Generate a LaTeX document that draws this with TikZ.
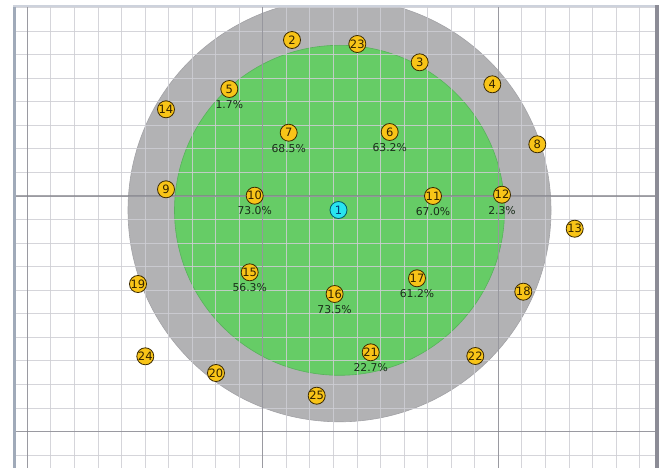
\documentclass[tikz,border=0pt]{standalone}
\usepackage{fontspec}
\setmainfont{DejaVu Sans}
\definecolor{ringgray}{RGB}{178,178,180}
\definecolor{ringedge}{RGB}{162,162,166}
\definecolor{fieldgreen}{RGB}{102,204,102}
\definecolor{fieldedge}{RGB}{88,178,92}
\definecolor{minorline}{RGB}{206,206,212}
\definecolor{majorline}{RGB}{130,130,138}
\definecolor{nodeyellow}{RGB}{248,196,24}
\definecolor{nodeedge}{RGB}{60,42,0}
\definecolor{nodetext}{RGB}{50,34,0}
\definecolor{basecyan}{RGB}{40,228,240}
\definecolor{baseedge}{RGB}{0,90,110}
\definecolor{basetext}{RGB}{0,60,120}
\definecolor{pcttext}{RGB}{25,45,25}
\definecolor{leftbar}{RGB}{160,170,185}
\definecolor{topbar}{RGB}{205,210,220}
\definecolor{rightbar}{RGB}{140,140,150}
\begin{document}
\begin{tikzpicture}[x=1pt,y=-1pt,
 sensor/.style={circle,draw=nodeedge,line width=0.8pt,fill=nodeyellow,minimum size=17pt,inner sep=0pt,font=\fontsize{11.5}{13}\selectfont,text=nodetext},
 basest/.style={sensor,fill=basecyan,draw=baseedge,text=basetext},
 pct/.style={font=\fontsize{10.8}{12}\selectfont,text=pcttext,inner sep=0pt,text height=7.9pt,text depth=0pt},
 minor/.style={draw=minorline,line width=0.9pt,opacity=0.85},
 major/.style={draw=majorline,line width=1.2pt,opacity=0.7}]
\useasboundingbox (0,0) rectangle (664,468);
\fill[white] (0,0) rectangle (664,468);
\begin{scope}
\clip (14,6) rectangle (657,468);
\fill[ringgray,draw=ringedge,line width=0.6pt] (339.5,210.3) circle[radius=211.5pt];
\fill[fieldgreen,draw=fieldedge,line width=0.6pt] (339.5,210.3) circle[radius=165pt];
\foreach \k in {0,...,26} { \draw[minor] ({27.3+23.55*\k},6) -- ({27.3+23.55*\k},468); }
\foreach \k in {-8,...,11} { \draw[minor] (14,{196+23.55*\k}) -- (657,{196+23.55*\k}); }
\foreach \k in {0,10,20} { \draw[major] ({27.3+23.55*\k},6) -- ({27.3+23.55*\k},468); }
\foreach \k in {0,10} { \draw[major] (14,{196+23.55*\k}) -- (657,{196+23.55*\k}); }
\end{scope}
\fill[leftbar] (12.5,5) rectangle (16,468);
\fill[topbar] (12.5,5) rectangle (659,7.5);
\fill[rightbar] (655,5) rectangle (659,468);
\node[basest] (n1) at (338.5,210) {1};
\node[sensor] (n2) at (292,40) {2};
\node[sensor] (n3) at (419.7,62.3) {3};
\node[sensor] (n4) at (492.3,84.3) {4};
\node[sensor] (n5) at (229.3,89) {5};
\node[sensor] (n6) at (389.7,132) {6};
\node[sensor] (n7) at (288.7,132.7) {7};
\node[sensor] (n8) at (537.3,144.3) {8};
\node[sensor] (n9) at (166,189.3) {9};
\node[sensor] (n10) at (254.7,195.7) {10};
\node[sensor] (n11) at (433,196) {11};
\node[sensor] (n12) at (502,194.7) {12};
\node[sensor] (n13) at (574.7,228.7) {13};
\node[sensor] (n14) at (166,109.3) {14};
\node[sensor] (n15) at (249.7,272.3) {15};
\node[sensor] (n16) at (334.6,294) {16};
\node[sensor] (n17) at (417,278.3) {17};
\node[sensor] (n18) at (523.3,291.7) {18};
\node[sensor] (n19) at (138,284) {19};
\node[sensor] (n20) at (216,373) {20};
\node[sensor] (n21) at (370.7,352.3) {21};
\node[sensor] (n22) at (475.3,356) {22};
\node[sensor] (n23) at (357.3,44) {23};
\node[sensor] (n24) at (145.3,356.3) {24};
\node[sensor] (n25) at (316.7,395.7) {25};
\node[pct] (p5) at ([yshift=-15.7pt]n5.center) {1.7\%};
\node[pct] (p7) at ([yshift=-15.7pt]n7.center) {68.5\%};
\node[pct] (p6) at ([yshift=-15.7pt]n6.center) {63.2\%};
\node[pct] (p10) at ([yshift=-15.3pt]n10.center) {73.0\%};
\node[pct] (p11) at ([yshift=-15.3pt]n11.center) {67.0\%};
\node[pct] (p12) at ([yshift=-15.7pt]n12.center) {2.3\%};
\node[pct] (p15) at ([yshift=-15.7pt]n15.center) {56.3\%};
\node[pct] (p16) at ([yshift=-15.7pt]n16.center) {73.5\%};
\node[pct] (p17) at ([yshift=-15.7pt]n17.center) {61.2\%};
\node[pct] (p21) at ([yshift=-15.7pt]n21.center) {22.7\%};
\end{tikzpicture}
\end{document}
